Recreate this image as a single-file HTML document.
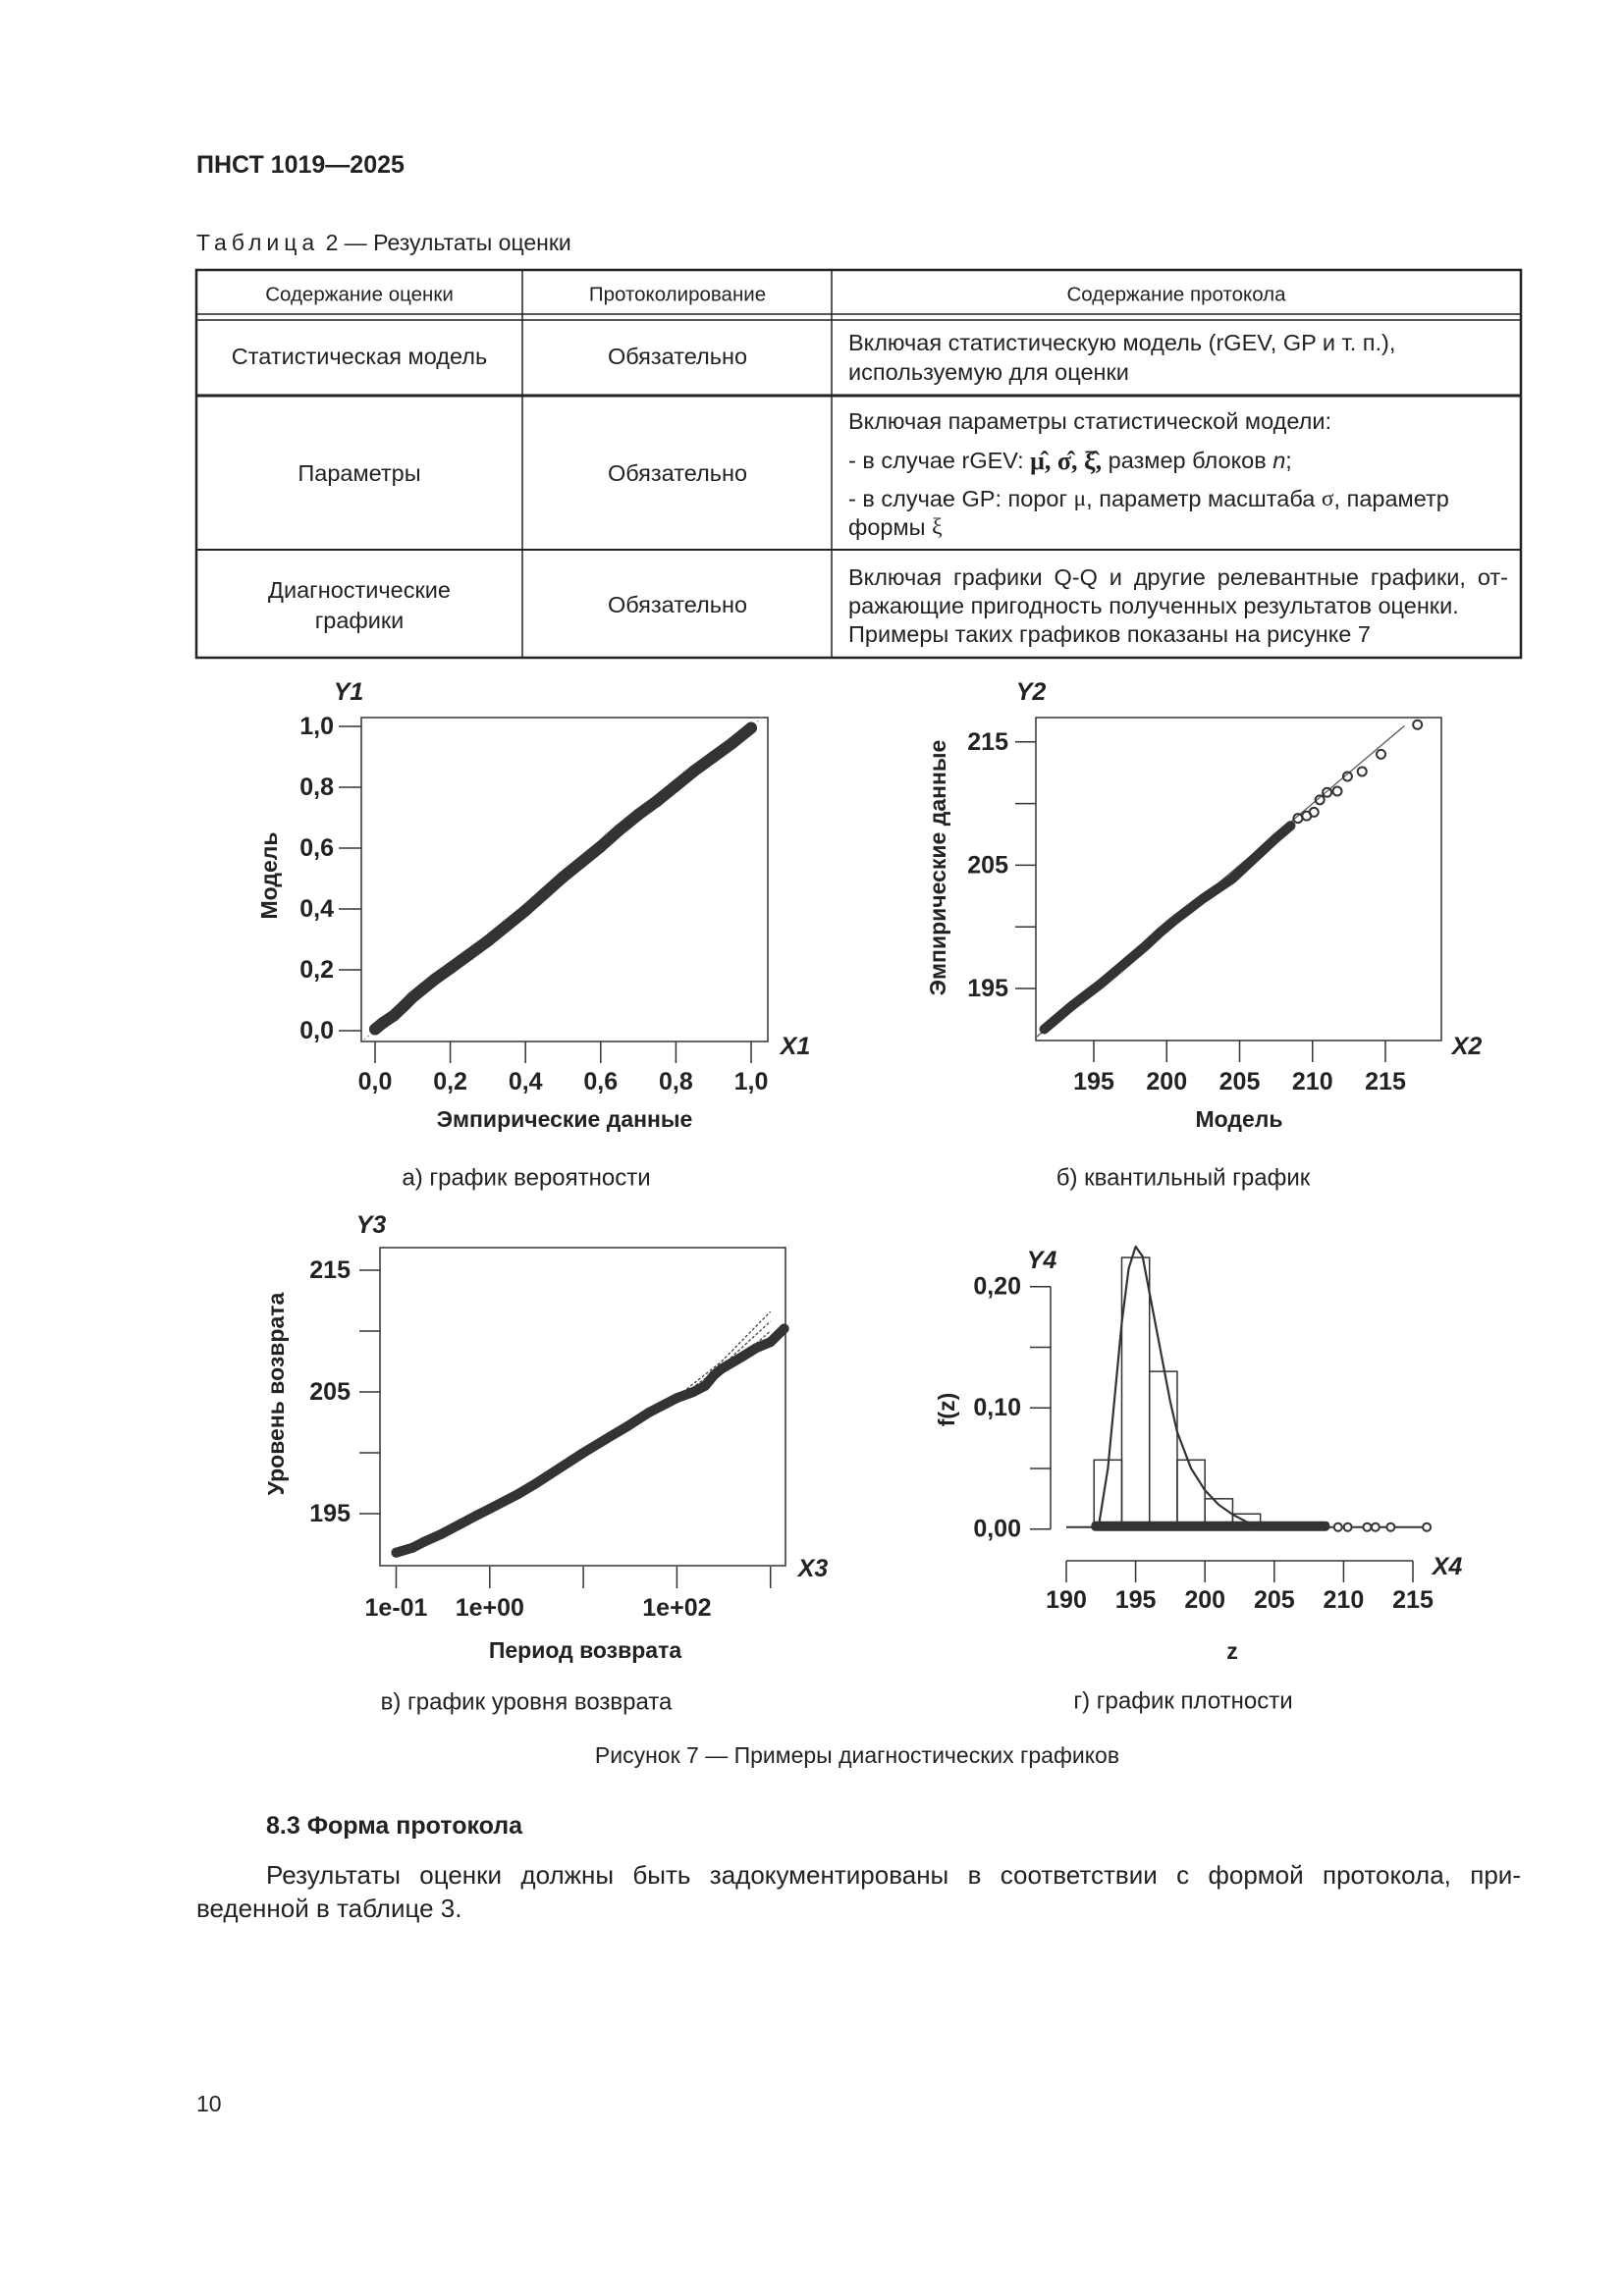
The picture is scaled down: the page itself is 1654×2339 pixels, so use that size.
<!DOCTYPE html>
<html><head><meta charset="utf-8">
<style>
html,body{margin:0;padding:0;background:#fff;}
svg{display:block;}
text{font-family:"Liberation Sans",Arial,sans-serif;fill:#222;}
.tk{font-size:25px;font-weight:bold;}
.at{font-size:23px;font-weight:bold;}
.al{font-size:25px;font-weight:bold;font-style:italic;}
.cap{font-size:24px;}
.tb{font-size:23.5px;}
.th{font-size:20.5px;}
</style></head>
<body>
<svg id="page" width="1654" height="2339" viewBox="0 0 1654 2339" xmlns="http://www.w3.org/2000/svg">
<text x="200" y="168" dominant-baseline="central" style="font-size:25px;font-weight:bold">ПНСТ 1019—2025</text>
<text x="200" y="247" dominant-baseline="central" style="font-size:23px"><tspan letter-spacing="5">Таблица</tspan> 2 — Результаты оценки</text>

<g id="table" stroke="#222" fill="none">
<rect x="200" y="275" width="1349" height="395" stroke-width="2.5"/>
<line x1="532" y1="275" x2="532" y2="670" stroke-width="1.5"/>
<line x1="847" y1="275" x2="847" y2="670" stroke-width="1.5"/>
<line x1="200" y1="320" x2="1549" y2="320" stroke-width="1.5"/>
<line x1="200" y1="326" x2="1549" y2="326" stroke-width="1.5"/>
<line x1="200" y1="403" x2="1549" y2="403" stroke-width="3"/>
<line x1="200" y1="560" x2="1549" y2="560" stroke-width="2"/>
</g>
<g>
<text class="th" x="366" y="300" text-anchor="middle" dominant-baseline="central">Содержание оценки</text>
<text class="th" x="690" y="300" text-anchor="middle" dominant-baseline="central">Протоколирование</text>
<text class="th" x="1198" y="300" text-anchor="middle" dominant-baseline="central">Содержание протокола</text>
<text class="tb" x="366" y="363" text-anchor="middle" dominant-baseline="central">Статистическая модель</text>
<text class="tb" x="690" y="363" text-anchor="middle" dominant-baseline="central">Обязательно</text>
<text class="tb" x="864" y="349" dominant-baseline="central">Включая статистическую модель (rGEV, GP и т. п.),</text>
<text class="tb" x="864" y="379" dominant-baseline="central">используемую для оценки</text>
<text class="tb" x="366" y="482" text-anchor="middle" dominant-baseline="central">Параметры</text>
<text class="tb" x="690" y="482" text-anchor="middle" dominant-baseline="central">Обязательно</text>
<text class="tb" x="864" y="429" dominant-baseline="central">Включая параметры статистической модели:</text>
<text class="tb" x="864" y="469" dominant-baseline="central">-  в случае rGEV: <tspan style="font-family:'Liberation Serif',serif;font-weight:bold;font-size:26px">μ̂, σ̂, ξ̂,</tspan> размер блоков <tspan font-style="italic">n</tspan>;</text>
<text class="tb" x="864" y="508" dominant-baseline="central">-  в случае GP: порог <tspan style="font-family:'Liberation Serif',serif">μ</tspan>, параметр масштаба <tspan style="font-family:'Liberation Serif',serif">σ</tspan>, параметр</text>
<text class="tb" x="864" y="537" dominant-baseline="central">формы <tspan style="font-family:'Liberation Serif',serif">ξ</tspan></text>
<text class="tb" x="366" y="601" text-anchor="middle" dominant-baseline="central">Диагностические</text>
<text class="tb" x="366" y="632" text-anchor="middle" dominant-baseline="central">графики</text>
<text class="tb" x="690" y="616" text-anchor="middle" dominant-baseline="central">Обязательно</text>
<text class="tb jst" data-w="672" x="864" y="588" dominant-baseline="central">Включая графики Q-Q и другие релевантные графики, от-</text>
<text class="tb" x="864" y="617" dominant-baseline="central">ражающие пригодность полученных результатов оценки.</text>
<text class="tb" x="864" y="646" dominant-baseline="central">Примеры таких графиков показаны на рисунке 7</text>
</g>

<!-- Chart A -->
<g id="chartA">
<rect x="368" y="731" width="414" height="330" fill="none" stroke="#333" stroke-width="1.5"/>
<g id="aAxes"></g><g id="aMarks"></g>
<text class="al" x="355" y="705" text-anchor="middle" dominant-baseline="central">Y1</text>
<text class="al" x="810" y="1066" text-anchor="middle" dominant-baseline="central">X1</text>
<text class="at" x="575" y="1140" text-anchor="middle" dominant-baseline="central">Эмпирические данные</text>
<text class="at" x="0" y="0" text-anchor="middle" dominant-baseline="central" transform="translate(274,892) rotate(-90)">Модель</text>
<text class="cap" x="536" y="1200" text-anchor="middle" dominant-baseline="central">а) график вероятности</text>
</g>

<!-- Chart B -->
<g id="chartB">
<rect x="1055" y="731" width="413" height="329" fill="none" stroke="#333" stroke-width="1.5"/>
<g id="bAxes"></g><g id="bMarks"></g>
<text class="al" x="1050" y="705" text-anchor="middle" dominant-baseline="central">Y2</text>
<text class="al" x="1494" y="1066" text-anchor="middle" dominant-baseline="central">X2</text>
<text class="at" x="1262" y="1140" text-anchor="middle" dominant-baseline="central">Модель</text>
<text class="at" x="0" y="0" text-anchor="middle" dominant-baseline="central" transform="translate(955,884) rotate(-90)">Эмпирические данные</text>
<text class="cap" x="1205" y="1200" text-anchor="middle" dominant-baseline="central">б) квантильный график</text>
</g>

<!-- Chart C -->
<g id="chartC">
<rect x="387" y="1271" width="413" height="324" fill="none" stroke="#333" stroke-width="1.5"/>
<g id="cAxes"></g><g id="cMarks"></g>
<text class="al" x="378" y="1248" text-anchor="middle" dominant-baseline="central">Y3</text>
<text class="al" x="828" y="1598" text-anchor="middle" dominant-baseline="central">X3</text>
<text class="at" x="596" y="1681" text-anchor="middle" dominant-baseline="central">Период возврата</text>
<text class="at" x="0" y="0" text-anchor="middle" dominant-baseline="central" transform="translate(281,1420) rotate(-90)">Уровень возврата</text>
<text class="cap" x="536" y="1734" text-anchor="middle" dominant-baseline="central">в) график уровня возврата</text>
</g>

<!-- Chart D -->
<g id="chartD">
<g id="dAxes"></g><g id="dMarks"></g>
<text class="al" x="1061" y="1284" text-anchor="middle" dominant-baseline="central">Y4</text>
<text class="al" x="1474" y="1596" text-anchor="middle" dominant-baseline="central">X4</text>
<text class="at" x="1255" y="1682" text-anchor="middle" dominant-baseline="central">z</text>
<text class="at" x="0" y="0" text-anchor="middle" dominant-baseline="central" transform="translate(964,1436) rotate(-90)">f(z)</text>
<text class="cap" x="1205" y="1733" text-anchor="middle" dominant-baseline="central">г) график плотности</text>
</g>

<text x="873" y="1788" text-anchor="middle" dominant-baseline="central" style="font-size:23px">Рисунок 7 — Примеры диагностических графиков</text>
<text x="271" y="1860" dominant-baseline="central" style="font-size:25px;font-weight:bold">8.3 Форма протокола</text>
<text class="jst" data-w="1278" x="271" y="1910" dominant-baseline="central" style="font-size:26px">Результаты оценки должны быть задокументированы в соответствии с формой протокола, при-</text>
<text x="200" y="1944" dominant-baseline="central" style="font-size:26px">веденной в таблице 3.</text>
<text x="200" y="2143" dominant-baseline="central" style="font-size:23px">10</text>
</svg>

<script>
// ---- Chart A data (probability plot)
const aEmpirical = [0.0,0.02,0.05,0.08,0.1,0.13,0.16,0.2,0.25,0.3,0.35,0.4,0.45,0.5,0.55,0.6,0.65,0.7,0.75,0.8,0.85,0.9,0.95,0.98,1.0];
const aModel = [0.005,0.025,0.05,0.085,0.11,0.14,0.17,0.205,0.25,0.295,0.345,0.395,0.45,0.505,0.555,0.605,0.66,0.71,0.755,0.805,0.855,0.9,0.945,0.975,0.995];
const aTicks = [0,0.2,0.4,0.6,0.8,1.0];
const aTickLabels = ["0,0","0,2","0,4","0,6","0,8","1,0"];
// ---- Chart B data (quantile plot)
const bModelDense = [191.6,192.5,193.5,194.5,195.5,196.5,197.5,198.5,199.5,200.5,201.5,202.5,203.5,204.5,205.5,206.5,207.5,208.5];
const bEmpDense = [191.7,192.6,193.6,194.5,195.4,196.4,197.4,198.4,199.5,200.5,201.4,202.3,203.1,203.9,205.0,206.1,207.2,208.2];
const bModelTail = [209.0,209.6,210.1,210.5,211.0,211.7,212.4,213.4,214.7,217.2];
const bEmpTail = [208.8,209.0,209.3,210.3,210.9,211.0,212.2,212.6,214.0,216.4];
const bRefLine = [191.0,216.3];
const bXTicks = [195,200,205,210,215];
const bYTicks = [195,200,205,210,215];
const bYTickLabels = ["195","","205","","215"];
// ---- Chart C data (return level)
const cPeriod = [0.1,0.15,0.2,0.3,0.5,0.7,1,2,3,5,10,20,30,50,100,150,200,250,300,500,700,1000,1400];
const cLevel = [191.8,192.2,192.7,193.3,194.2,194.8,195.4,196.6,197.4,198.5,200.0,201.4,202.2,203.3,204.5,205.0,205.5,206.4,206.9,207.9,208.6,209.1,210.2];
const cLinePeriod = [0.1,1,10,100,300,1000];
const cLineMid = [191.8,195.4,200.0,204.4,207.1,210.8];
const cLineUpper = [191.8,195.4,200.0,204.6,207.5,211.6];
const cLineLower = [191.8,195.4,200.0,204.3,206.5,210.0];
const cXTicks = [0.1,1,10,100,1000];
const cXTickLabels = ["1e-01","1e+00","","1e+02",""];
const cYTicks = [195,200,205,210,215];
const cYTickLabels = ["195","","205","","215"];
// ---- Chart D data (density)
const dBinStart = [192,194,196,198,200,202,204];
const dBinHeight = [0.057,0.224,0.130,0.057,0.025,0.0125,0.003];
const dCurveZ = [192.3,193,193.5,194,194.5,195,195.5,196,196.5,197,197.5,198,199,200,201,202,203,204,205];
const dCurveF = [0,0.05,0.11,0.17,0.215,0.233,0.225,0.195,0.165,0.135,0.105,0.08,0.05,0.032,0.02,0.012,0.006,0.002,0];
const dRugRange = [191.8,209.0];
const dOutliers = [209.6,210.3,211.7,212.3,213.4,216.0];
const dXTicks = [190,195,200,205,210,215];
const dYTicks = [0,0.05,0.1,0.15,0.2];
const dYTickLabels = ["0,00","","0,10","","0,20"];

const NS="http://www.w3.org/2000/svg";
function mk(parent,tag,attrs){const e=document.createElementNS(NS,tag);for(const k in attrs)e.setAttribute(k,attrs[k]);parent.appendChild(e);return e;}
function poly(xs,ys,fx,fy){return xs.map((v,i)=>fx(v)+","+fy(ys[i])).join(" ");}

// justify lines via word-spacing
document.querySelectorAll('text.jst').forEach(t=>{
 const target=+t.getAttribute('data-w');
 const nat=t.getComputedTextLength();
 const spaces=(t.textContent.match(/ /g)||[]).length;
 if(spaces>0&&target>nat) t.setAttribute('word-spacing',((target-nat)/spaces).toFixed(2));
});

// scales
const xA=v=>382+v*383, yA=v=>1050-v*310;
const xB=v=>1114+(v-195)*14.85, yB=v=>1007-(v-195)*12.56;
const xC=T=>403.5+(Math.log10(T)+1)*95.3, yC=v=>1542-(v-195)*12.4;
const xD=z=>1086+(z-190)*14.12, yD=f=>1557.7-f*1235;

// ---- Chart A
(function(){
const ax=document.getElementById('aAxes'), mg=document.getElementById('aMarks');
aTicks.forEach((t,i)=>{
 let l=mk(ax,'line',{x1:345,x2:368,y1:yA(t),y2:yA(t),stroke:'#333','stroke-width':1.5});
 
 
 let tx=mk(ax,'text',{x:340,y:yA(t),'text-anchor':'end','dominant-baseline':'central',class:'tk'});tx.textContent=aTickLabels[i];
 
 
 let l2=mk(ax,'line',{x1:xA(t),x2:xA(t),y1:1061,y2:1083,stroke:'#333','stroke-width':1.5});
 
 
 let t2=mk(ax,'text',{x:xA(t),y:1102,'text-anchor':'middle','dominant-baseline':'central',class:'tk'});t2.textContent=aTickLabels[i];
 
 
});
let ref=mk(mg,'line',{x1:xA(-0.03),y1:yA(-0.03),x2:xA(1.03),y2:yA(1.03),stroke:'#888','stroke-width':1,'stroke-dasharray':'2,3'});


let p=mk(mg,'polyline',{points:poly(aEmpirical,aModel,xA,yA),fill:'none',stroke:'#333','stroke-width':12,'stroke-linecap':'round','stroke-linejoin':'round'});


aEmpirical.forEach((v,i)=>{let c=mk(mg,'circle',{cx:xA(v),cy:yA(aModel[i]),r:6,fill:'#333'});
 
 });
})();

// ---- Chart B
(function(){
const ax=document.getElementById('bAxes'), mg=document.getElementById('bMarks');
bYTicks.forEach((t,i)=>{
 let l=mk(ax,'line',{x1:1034,x2:1055,y1:yB(t),y2:yB(t),stroke:'#333','stroke-width':1.5});
 
 
 if(bYTickLabels[i]){let tx=mk(ax,'text',{x:1027,y:yB(t),'text-anchor':'end','dominant-baseline':'central',class:'tk'});tx.textContent=bYTickLabels[i];
 
 }
});
bXTicks.forEach(t=>{
 let l=mk(ax,'line',{x1:xB(t),x2:xB(t),y1:1060,y2:1082,stroke:'#333','stroke-width':1.5});
 
 
 let tx=mk(ax,'text',{x:xB(t),y:1102,'text-anchor':'middle','dominant-baseline':'central',class:'tk'});tx.textContent=String(t);
 
 
});
let ref=mk(mg,'line',{x1:xB(bRefLine[0]),y1:yB(bRefLine[0]),x2:xB(bRefLine[1]),y2:yB(bRefLine[1]),stroke:'#555','stroke-width':1.3});


let p=mk(mg,'polyline',{points:poly(bModelDense,bEmpDense,xB,yB),fill:'none',stroke:'#333','stroke-width':10,'stroke-linecap':'round','stroke-linejoin':'round'});


bModelTail.forEach((v,i)=>{let c=mk(mg,'circle',{cx:xB(v),cy:yB(bEmpTail[i]),r:4.5,fill:'none',stroke:'#333','stroke-width':2});
 
 });
})();

// ---- Chart C
(function(){
const ax=document.getElementById('cAxes'), mg=document.getElementById('cMarks');
cYTicks.forEach((t,i)=>{
 let l=mk(ax,'line',{x1:366,x2:387,y1:yC(t),y2:yC(t),stroke:'#333','stroke-width':1.5});
 
 
 if(cYTickLabels[i]){let tx=mk(ax,'text',{x:357,y:yC(t),'text-anchor':'end','dominant-baseline':'central',class:'tk'});tx.textContent=cYTickLabels[i];
 
 }
});
cXTicks.forEach((t,i)=>{
 let l=mk(ax,'line',{x1:xC(t),x2:xC(t),y1:1596,y2:1618,stroke:'#333','stroke-width':1.5});
 
 
 if(cXTickLabels[i]){let tx=mk(ax,'text',{x:xC(t),y:1638,'text-anchor':'middle','dominant-baseline':'central',class:'tk'});tx.textContent=cXTickLabels[i];
 
 }
});
[[cLineUpper,'upper'],[cLineMid,'estimate'],[cLineLower,'lower']].forEach(([arr,nm])=>{
 let l=mk(mg,'polyline',{points:poly(cLinePeriod,arr,xC,yC),fill:'none',stroke:'#444','stroke-width':1.3,'stroke-dasharray':'3,2'});
 
 
});
let p=mk(mg,'polyline',{points:poly(cPeriod,cLevel,xC,yC),fill:'none',stroke:'#333','stroke-width':10,'stroke-linecap':'round','stroke-linejoin':'round'});


cPeriod.forEach((v,i)=>{let c=mk(mg,'circle',{cx:xC(v),cy:yC(cLevel[i]),r:5,fill:'#333'});
 
 });
})();

// ---- Chart D
(function(){
const ax=document.getElementById('dAxes'), mg=document.getElementById('dMarks');
let ya=mk(ax,'line',{x1:1070,x2:1070,y1:yD(0.2),y2:yD(0),stroke:'#333','stroke-width':1.5});


dYTicks.forEach((t,i)=>{
 let l=mk(ax,'line',{x1:1049,x2:1070,y1:yD(t),y2:yD(t),stroke:'#333','stroke-width':1.5});
 
 
 if(dYTickLabels[i]){let tx=mk(ax,'text',{x:1040,y:yD(t),'text-anchor':'end','dominant-baseline':'central',class:'tk'});tx.textContent=dYTickLabels[i];
 
 }
});
let xa=mk(ax,'line',{x1:xD(190),x2:xD(215),y1:1590,y2:1590,stroke:'#333','stroke-width':1.5});


dXTicks.forEach(t=>{
 let l=mk(ax,'line',{x1:xD(t),x2:xD(t),y1:1590,y2:1612,stroke:'#333','stroke-width':1.5});
 
 
 let tx=mk(ax,'text',{x:xD(t),y:1630,'text-anchor':'middle','dominant-baseline':'central',class:'tk'});tx.textContent=String(t);
 
 
});
dBinStart.forEach((z,i)=>{
 let r=mk(mg,'rect',{x:xD(z),y:yD(dBinHeight[i]),width:xD(z+2)-xD(z),height:yD(0)-yD(dBinHeight[i]),fill:'none',stroke:'#333','stroke-width':1.5});
 
 
});
let base=mk(mg,'line',{x1:xD(190),x2:xD(dOutliers[dOutliers.length-1]),y1:yD(0)-2,y2:yD(0)-2,stroke:'#333','stroke-width':2});


let rug=mk(mg,'rect',{x:xD(dRugRange[0]),y:yD(0)-8,width:xD(dRugRange[1])-xD(dRugRange[0]),height:10,rx:4,fill:'#333'});


dOutliers.forEach(z=>{let c=mk(mg,'circle',{cx:xD(z),cy:yD(0)-2,r:4,fill:'#fff',stroke:'#333','stroke-width':2});
 
 });
let cur=mk(mg,'polyline',{points:poly(dCurveZ,dCurveF,xD,yD),fill:'none',stroke:'#333','stroke-width':2.2,'stroke-linejoin':'round'});


})();
</script>
</body></html>
